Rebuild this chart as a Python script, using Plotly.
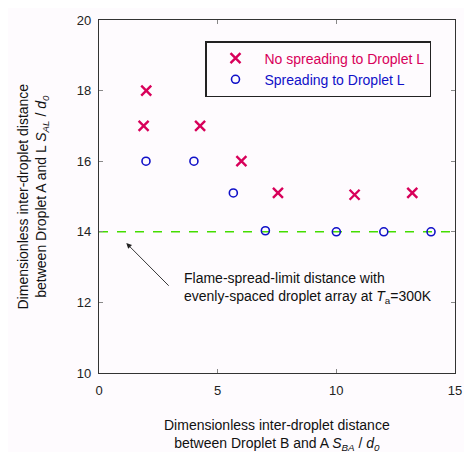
import plotly.graph_objects as go

# Data
no_spread_x = [1.99, 1.88, 4.26, 6.0, 7.54, 10.77, 13.2]
no_spread_y = [18.0, 17.0, 17.0, 16.0, 15.1, 15.05, 15.1]
spread_x = [1.98, 4.0, 5.66, 7.01, 10.0, 12.0, 13.99]
spread_y = [16.0, 16.0, 15.1, 14.03, 14.0, 14.0, 14.0]
limit_x = [0, 15]
limit_y = [14, 14]
x_ticks = [0, 5, 10, 15]
y_ticks = [10, 12, 14, 16, 18, 20]

RED = "#d8005a"
BLUE = "#1010c8"
FONT = "Liberation Sans"
TXT = "#111"

# page keeps an 8px body margin on the left/top; the figure fills the rest
W, H = 456, 444
ML, MR, MT, MB = 91, 9, 12, 79
PW, PH = W - ML - MR, H - MT - MB


def px_x(p):  # page pixel x -> paper
    return (p - 8 - ML) / PW


def px_y(p):  # page pixel y -> paper
    return (H - MB - (p - 8)) / PH


fig = go.Figure()
fig.add_trace(go.Scatter(
    x=limit_x, y=limit_y, mode="lines", showlegend=False,
    line=dict(color="#44dd00", width=1.5, dash="dash")))
fig.add_trace(go.Scatter(
    x=no_spread_x, y=no_spread_y, mode="markers",
    name=f"<span style='color:{RED}'>No spreading to Droplet L</span>",
    marker=dict(symbol="x-thin", size=10, line=dict(color=RED, width=2.4), color=RED)))
fig.add_trace(go.Scatter(
    x=spread_x, y=spread_y, mode="markers",
    name=f"<span style='color:{BLUE}'>Spreading to Droplet L</span>",
    marker=dict(symbol="circle-open", size=8, line=dict(color=BLUE, width=1.6), color=BLUE)))

# arrow and note
fig.add_annotation(
    x=1.15, y=13.68, ax=3.0, ay=12.43, xref="x", yref="y", axref="x", ayref="y",
    text="", showarrow=True, arrowhead=2, arrowsize=1.2, arrowwidth=0.9, arrowcolor="#222")
fig.add_annotation(
    x=3.5, y=12.4, xref="x", yref="y", xanchor="left", yanchor="middle", align="left",
    showarrow=False,
    text="Flame-spread-limit distance with<br>evenly-spaced droplet array at <i>T</i><sub>a</sub>=300K",
    font=dict(family=FONT, size=14, color=TXT))

# x axis title
fig.add_annotation(
    x=0.5, y=px_y(435), xref="paper", yref="paper", showarrow=False,
    xanchor="center", yanchor="middle",
    text="Dimensionless inter-droplet distance<br>between Droplet B and A <i>S</i><sub><i>BA</i></sub> / <i>d</i><sub><i>0</i></sub>",
    font=dict(family=FONT, size=14, color=TXT))

# y axis title
fig.add_annotation(
    x=px_x(32), y=0.5, xref="paper", yref="paper", showarrow=False, textangle=-90,
    xanchor="center", yanchor="middle",
    text="Dimensionless inter-droplet distance<br>between Droplet A and L <i>S</i><sub><i>AL</i></sub> / <i>d</i><sub><i>0</i></sub>",
    font=dict(family=FONT, size=14, color=TXT))

axis_common = dict(
    showgrid=False, zeroline=False, ticks="inside", ticklen=4, tickcolor="#888",
    showline=True, linecolor="#333", linewidth=1.2, mirror="ticks", automargin=False,
    ticklabeloverflow="allow",
    tickfont=dict(family=FONT, size=13, color="#222"))

fig.update_xaxes(range=[0, 15], tickvals=x_ticks, ticklabelstandoff=5, **axis_common)
fig.update_yaxes(range=[10, 20], tickvals=y_ticks, ticklabelstandoff=4, **axis_common)

fig.update_layout(
    width=W, height=H,
    margin=dict(l=ML, r=MR, t=MT, b=MB),
    paper_bgcolor="#fefbfe", plot_bgcolor="#fefbfe",
    font=dict(family=FONT, size=14),
    legend=dict(x=px_x(205), y=px_y(41), xanchor="left", yanchor="top",
                bordercolor="#222", borderwidth=1.5, bgcolor="rgba(0,0,0,0)",
                font=dict(family=FONT, size=14), itemwidth=48, tracegroupgap=2),
)

fig.write_html(
    "out.html",
    post_script=("document.body.style.margin='8px 0 0 8px';"
                 "document.body.style.overflow='hidden';"
                 "document.documentElement.style.overflow='hidden';"))
